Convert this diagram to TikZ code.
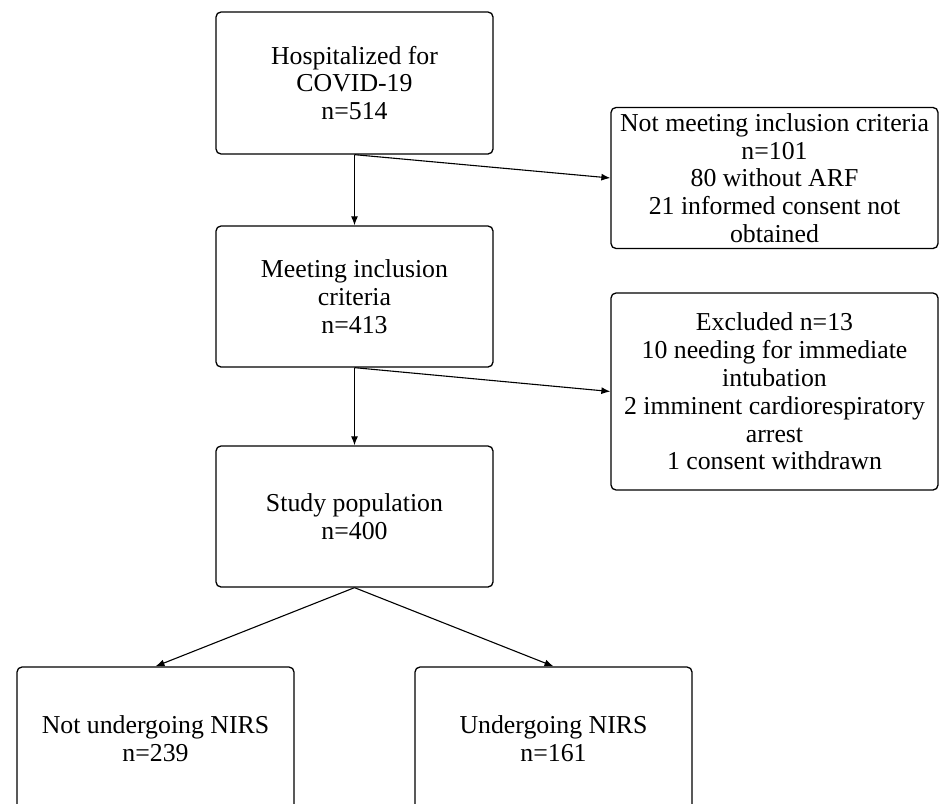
\documentclass[tikz,border=0pt]{standalone}
\usepackage{fontspec}
\setmainfont{Liberation Serif}
\usetikzlibrary{arrows.meta}
\begin{document}
\begin{tikzpicture}[x=1pt,y=-1pt,
  box/.style={draw, line width=1.3pt, rounded corners=5pt, align=center,
    font=\fontsize{25.8}{27.8}\selectfont, inner sep=0pt},
  arr/.style={-{Latex[length=9pt,width=7pt]}, line width=1.1pt}]
\useasboundingbox (0,0) rectangle (950,803);
\clip (0,0) rectangle (950,803);
\node[box, minimum width=277pt, minimum height=142pt] (hosp) at (354.5,83) {Hospitalized for\\COVID-19\\n=514};
\node[box, minimum width=327pt, minimum height=141pt] (notmeet) at (774.5,178) {Not meeting inclusion criteria\\n=101\\80 without ARF\\21 informed consent not\\obtained};
\node[box, minimum width=277pt, minimum height=141pt] (meet) at (354.5,296.5) {Meeting inclusion\\criteria\\n=413};
\node[box, minimum width=327pt, minimum height=197pt] (excl) at (774.5,391.5) {Excluded n=13\\10 needing for immediate\\intubation\\2 imminent cardiorespiratory\\arrest\\1 consent withdrawn};
\node[box, minimum width=277pt, minimum height=141pt] (study) at (354.5,516.5) {Study population\\n=400};
\node[box, minimum width=277pt, minimum height=144pt] (notnirs) at (155.5,739) {Not undergoing NIRS\\n=239};
\node[box, minimum width=277pt, minimum height=144pt] (nirs) at (553.5,739) {Undergoing NIRS\\n=161};
\draw[arr] (hosp.south) -- (meet.north);
\draw[arr] (hosp.south) -- (notmeet.west);
\draw[arr] (meet.south) -- (study.north);
\draw[arr] (meet.south) -- (excl.west);
\draw[arr] (study.south) -- (notnirs.north);
\draw[arr] (study.south) -- (nirs.north);
\end{tikzpicture}
\end{document}
